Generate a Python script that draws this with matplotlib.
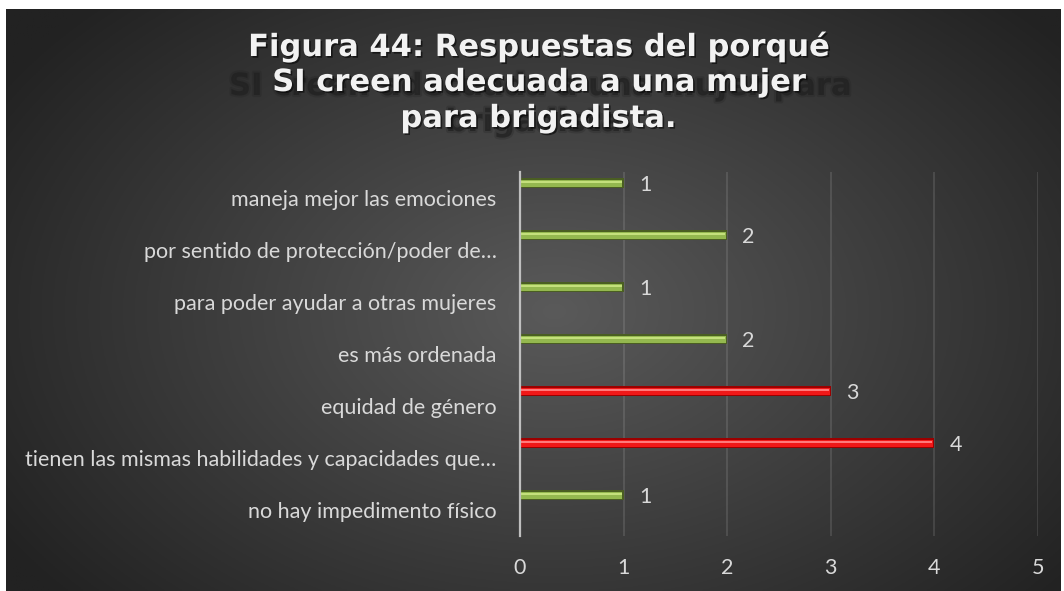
import matplotlib
matplotlib.use("Agg")
import matplotlib.pyplot as plt
import matplotlib.patheffects as pe
import numpy as np

# Respuestas (conteo) por categoría, de arriba hacia abajo
categories = [
    "maneja mejor las emociones",
    "por sentido de protección/poder de…",
    "para poder ayudar a otras mujeres",
    "es más ordenada",
    "equidad de género",
    "tienen las mismas habilidades y capacidades que…",
    "no hay impedimento físico",
]
counts = [1, 2, 1, 2, 3, 4, 1]
x_ticks = [0, 1, 2, 3, 4, 5]

title_lines = ["Figura 44: Respuestas del porqué",
               "SI creen adecuada a una mujer",
               "para brigadista."]
ghost_lines = ["SI creen adecuada a una mujer para", "brigadista."]

W, H = 1064, 591
fig = plt.figure(figsize=(W / 100, H / 100), dpi=100, facecolor="white")

# dark panel with a soft radial gradient
bg = fig.add_axes([6 / W, 0, 1055 / W, 582 / H])
bg.axis("off")
yy, xx = np.mgrid[0:1:300j, 0:1:560j]
r = np.sqrt(((xx - 0.52) / 0.62) ** 2 + ((yy - 0.52) / 0.75) ** 2)
r = np.clip(r, 0, 1)
c_in = np.array([0x5a, 0x5a, 0x5a]) / 255
c_out = np.array([0x22, 0x22, 0x22]) / 255
img = c_in[None, None, :] * (1 - r[..., None]) + c_out[None, None, :] * r[..., None]
bg.imshow(img, aspect="auto", extent=[0, 1, 0, 1], origin="upper")
bg.set_xlim(0, 1)
bg.set_ylim(0, 1)

# title: blurred offset copy behind, then the white text
title_font = dict(family="DejaVu Sans", weight="bold", fontsize=22, ha="center")
ghost_y = [95, 131]
for line, yp in zip(ghost_lines, ghost_y):
    fig.text(539 / W, 1 - yp / H, line, color="#202020", alpha=0.6, va="baseline",
             path_effects=[pe.withStroke(linewidth=3, foreground="#202020", alpha=0.25)],
             **title_font)
title_y = [56, 91, 127]
for line, yp in zip(title_lines, title_y):
    fig.text(538 / W, 1 - yp / H, line, color="#f2f2f2", va="baseline",
             path_effects=[pe.withSimplePatchShadow(offset=(1.2, -1.2), shadow_rgbFace="black", alpha=0.55)],
             **title_font)

# bar chart area
ax = fig.add_axes([520 / W, (H - 536) / H, (1038 - 520) / W, (536 - 172) / H])
ax.set_facecolor("none")

label_font = dict(family="Lato", fontsize=15.5)
ypos = np.arange(len(categories))
bar_y = ypos - 0.29
green = dict(edge="#4a5e22", main="#94b84f", light="#c4e07c")
red = dict(edge="#9a0000", main="#f01818", light="#ff7a7a")
for yb, v in zip(bar_y, counts):
    pal = red if v >= 3 else green
    ax.barh(yb, v, height=0.2, color=pal["edge"], zorder=3)
    ax.barh(yb + 0.005, v - 0.012, height=0.13, color=pal["main"], zorder=4)
    ax.barh(yb - 0.025, v - 0.02, height=0.035, color=pal["light"], zorder=5)
    ax.annotate(str(v), xy=(v, yb), xytext=(11, -1.5), textcoords="offset points",
                ha="left", va="center", color="#d9d9d9", **label_font)

ax.set_xlim(0, 5)
ax.set_ylim(len(categories) - 0.5, -0.5)
ax.set_xticks(x_ticks)
ax.set_yticks(ypos)
ax.set_yticklabels(categories)
ax.grid(axis="x", color="white", alpha=0.12, linewidth=1.3, zorder=0)
ax.set_axisbelow(True)
for side in ["top", "right", "bottom"]:
    ax.spines[side].set_visible(False)
ax.spines["left"].set_color("#bfbfbf")
ax.spines["left"].set_linewidth(1.6)
ax.spines["left"].set_zorder(6)
ax.tick_params(axis="both", length=0, colors="#d9d9d9", labelsize=label_font["fontsize"])
ax.tick_params(axis="y", pad=17)
ax.tick_params(axis="x", pad=16)
for lbl in ax.get_xticklabels() + ax.get_yticklabels():
    lbl.set_family(label_font["family"])

fig.savefig("out.png", dpi=100, facecolor="white")
